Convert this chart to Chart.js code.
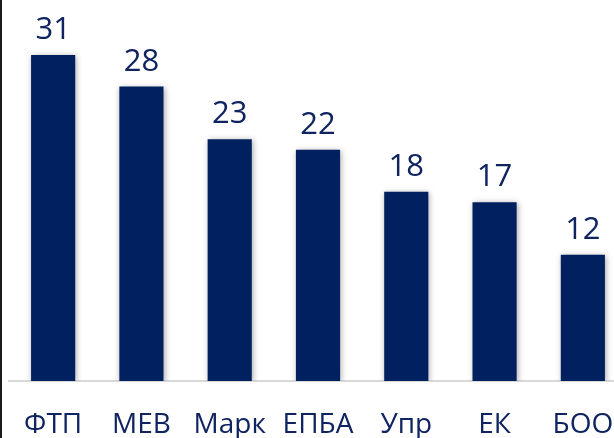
<!DOCTYPE html>
<html>
<head>
<meta charset="utf-8">
<script src="https://cdn.jsdelivr.net/npm/chart.js@4"></script>
<style>
  html, body { margin: 0; padding: 0; background: #fff; overflow: hidden; }
  #wrap { position: relative; width: 614px; height: 438px; overflow: hidden; }
  #edge { position: absolute; left: 0; top: 0; width: 2px; height: 438px; background: #1c1c1c; z-index: 2; }
  canvas { position: absolute; left: 0; top: 0; }
</style>
</head>
<body>
<div id="wrap">
  <div id="edge"></div>
  <canvas id="barChart" width="632" height="438"></canvas>
</div>
<script>
const categories = ["ФТП", "МЕВ", "Марк", "ЕПБА", "Упр", "ЕК", "БОО"];
const values = [31, 28, 23, 22, 18, 17, 12];

const NAVY = "#002060";
const LABEL = "#0f2460";

// soft grey shadow behind the bars
const barShadow = {
  id: "barShadow",
  beforeDatasetDraw(chart) {
    const ctx = chart.ctx;
    ctx.save();
    ctx.shadowColor = "rgba(0,0,0,0.35)";
    ctx.shadowBlur = 6;
    ctx.shadowOffsetX = 1;
    ctx.shadowOffsetY = 1;
  },
  afterDatasetDraw(chart) {
    chart.ctx.restore();
  }
};

// numbers above each bar
const valueLabels = {
  id: "valueLabels",
  afterDatasetsDraw(chart) {
    const ctx = chart.ctx;
    const meta = chart.getDatasetMeta(0);
    ctx.save();
    ctx.font = "31px 'Open Sans'";
    ctx.fillStyle = LABEL;
    ctx.textAlign = "center";
    ctx.textBaseline = "alphabetic";
    meta.data.forEach((bar, i) => {
      ctx.fillText(String(values[i]), bar.x, bar.y - 16);
    });
    ctx.restore();
  }
};

new Chart(document.getElementById("barChart").getContext("2d"), {
  type: "bar",
  data: {
    labels: categories,
    datasets: [{
      data: values,
      backgroundColor: NAVY,
      borderWidth: 0,
      barPercentage: 0.5,
      categoryPercentage: 1
    }]
  },
  options: {
    responsive: false,
    animation: false,
    layout: { padding: { top: 13, left: 9, right: 5, bottom: 0 } },
    plugins: {
      legend: { display: false },
      tooltip: { enabled: false }
    },
    scales: {
      x: {
        grid: { display: false, drawTicks: false },
        border: { display: true, color: "#d9d9d9", width: 2 },
        ticks: {
          color: LABEL,
          font: { family: "'Open Sans'", size: 28 },
          padding: 27,
          maxRotation: 0,
          autoSkip: false
        },
        afterFit(scale) {
          scale.height = 57;
          // keep the outer labels from squeezing the plot area
          scale.paddingLeft = 0;
          scale.paddingRight = 0;
        }
      },
      y: {
        display: false,
        min: 0,
        max: 35
      }
    }
  },
  plugins: [barShadow, valueLabels]
});
</script>
</body>
</html>
